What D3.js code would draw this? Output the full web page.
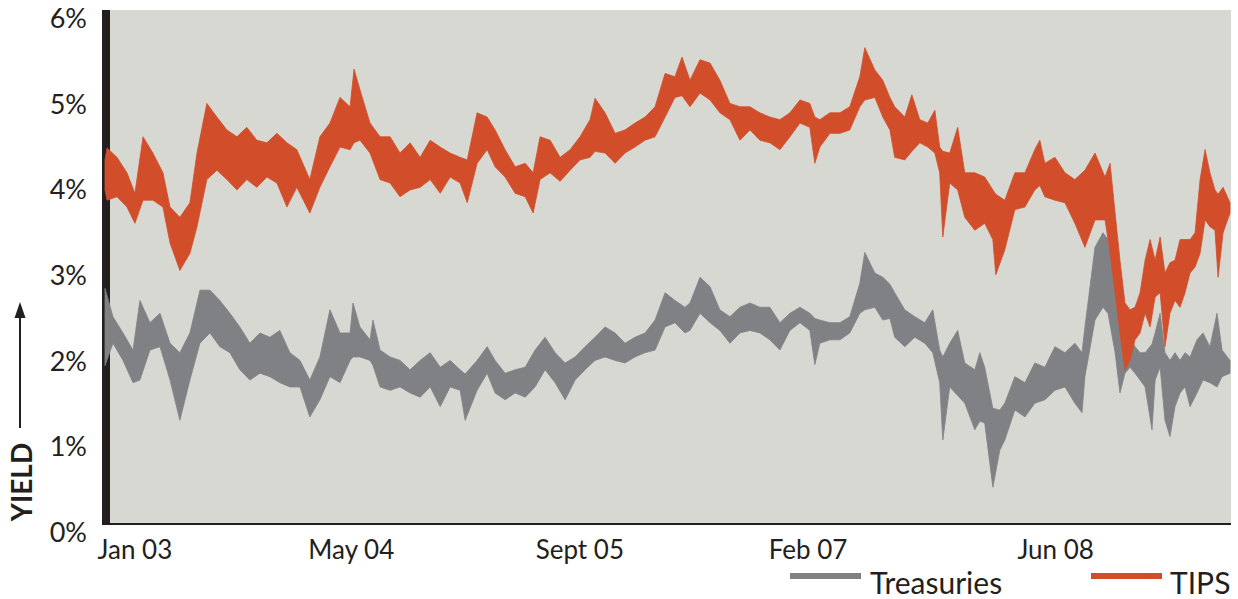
<!DOCTYPE html>
<html>
<head>
<meta charset="utf-8">
<script src="https://cdn.jsdelivr.net/npm/d3@7"></script>
<style>
  body { margin: 0; background: #fff; }
  text { font-family: Lato, "Open Sans", sans-serif; fill: #231f20; }
</style>
</head>
<body>
<svg width="1238" height="599"></svg>
<script>
// [decimal year, high, low] yield bands
const tips = [
  [2003.000,4.25,3.90],[2003.012,4.39,3.78],[2003.069,4.28,3.82],[2003.127,4.10,3.70],[2003.173,3.86,3.51],
  [2003.220,4.52,3.78],[2003.277,4.33,3.78],[2003.335,4.10,3.70],[2003.376,3.70,3.28],[2003.433,3.58,2.96],
  [2003.491,3.75,3.16],[2003.532,4.33,3.47],[2003.589,4.91,4.02],[2003.647,4.75,4.13],[2003.705,4.60,4.02],
  [2003.763,4.52,3.90],[2003.820,4.63,4.02],[2003.878,4.48,3.93],[2003.936,4.45,4.05],[2003.994,4.56,3.98],
  [2004.052,4.45,3.70],[2004.109,4.37,3.93],[2004.184,4.02,3.63],[2004.242,4.52,3.93],[2004.300,4.68,4.17],
  [2004.358,4.98,4.40],[2004.416,4.87,4.37],[2004.439,5.31,4.45],[2004.473,5.07,4.48],[2004.531,4.68,4.33],
  [2004.589,4.52,4.02],[2004.647,4.52,3.98],[2004.704,4.33,3.82],[2004.762,4.45,3.90],[2004.820,4.28,3.93],
  [2004.878,4.48,4.02],[2004.936,4.40,3.86],[2004.993,4.33,4.05],[2005.051,4.28,3.98],[2005.092,4.25,3.75],
  [2005.149,4.80,4.21],[2005.207,4.75,4.37],[2005.253,4.60,4.17],[2005.311,4.37,4.05],[2005.369,4.17,3.86],
  [2005.427,4.21,3.82],[2005.473,4.10,3.63],[2005.513,4.52,4.02],[2005.571,4.48,4.10],[2005.629,4.28,4.00],
  [2005.687,4.37,4.13],[2005.744,4.52,4.25],[2005.802,4.72,4.28],[2005.831,4.97,4.35],[2005.889,4.80,4.33],
  [2005.947,4.56,4.21],[2006.004,4.60,4.33],[2006.062,4.68,4.40],[2006.120,4.75,4.48],[2006.178,4.87,4.52],
  [2006.236,5.26,4.75],[2006.293,5.22,4.98],[2006.334,5.45,5.00],[2006.380,5.18,4.87],[2006.438,5.42,5.03],
  [2006.496,5.38,4.95],[2006.553,5.18,4.80],[2006.611,4.91,4.72],[2006.669,4.87,4.48],[2006.727,4.87,4.60],
  [2006.784,4.80,4.48],[2006.842,4.75,4.45],[2006.900,4.72,4.37],[2006.958,4.80,4.52],[2007.016,4.95,4.68],
  [2007.073,4.91,4.63],[2007.102,4.75,4.21],[2007.131,4.72,4.40],[2007.189,4.80,4.56],[2007.247,4.80,4.56],
  [2007.304,4.87,4.60],[2007.362,5.22,4.87],[2007.391,5.56,4.95],[2007.449,5.30,4.98],[2007.495,5.18,4.75],
  [2007.536,4.98,4.60],[2007.564,4.87,4.28],[2007.622,4.75,4.25],[2007.663,5.01,4.35],[2007.709,4.72,4.45],
  [2007.755,4.68,4.40],[2007.796,4.83,4.33],[2007.824,4.40,4.10],[2007.842,4.35,3.35],[2007.882,4.33,3.98],
  [2007.928,4.63,3.90],[2007.969,4.10,3.58],[2008.027,4.10,3.43],[2008.084,4.05,3.51],[2008.131,3.90,3.32],
  [2008.148,3.85,2.91],[2008.200,3.78,3.20],[2008.258,4.10,3.67],[2008.316,4.10,3.70],[2008.373,4.37,3.90],
  [2008.402,4.48,3.95],[2008.431,4.21,3.82],[2008.489,4.28,3.78],[2008.547,4.10,3.75],[2008.604,4.02,3.51],
  [2008.662,4.13,3.23],[2008.720,4.33,3.55],[2008.778,4.05,3.55],[2008.807,4.21,3.16],[2008.836,3.63,2.70],
  [2008.864,3.08,2.23],[2008.893,2.58,1.80],[2008.922,2.50,1.91],[2008.951,2.53,2.15],[2008.980,2.70,2.23],
  [2009.009,3.08,2.46],[2009.038,3.32,2.30],[2009.067,3.08,2.65],[2009.096,3.35,2.70],[2009.124,2.93,2.07],
  [2009.153,3.05,2.46],[2009.182,3.08,2.61],[2009.211,3.32,2.53],[2009.240,3.32,2.70],[2009.269,3.32,2.93],
  [2009.298,3.40,3.00],[2009.327,4.02,3.16],[2009.356,4.37,3.55],[2009.384,4.10,3.47],[2009.413,3.90,3.43],
  [2009.431,3.85,2.88],[2009.460,3.93,3.40],[2009.500,3.75,3.63]
];

const treasuries = [
  [2003.000,2.75,1.85],[2003.046,2.42,2.11],[2003.104,2.23,1.91],[2003.162,2.03,1.65],[2003.202,2.61,1.68],
  [2003.260,2.35,2.03],[2003.318,2.46,2.07],[2003.376,2.11,1.68],[2003.433,2.00,1.21],[2003.491,2.23,1.68],
  [2003.549,2.73,2.11],[2003.607,2.73,2.23],[2003.664,2.61,2.07],[2003.722,2.46,2.00],[2003.780,2.30,1.80],
  [2003.838,2.11,1.68],[2003.896,2.23,1.76],[2003.953,2.18,1.72],[2004.011,2.26,1.65],[2004.069,2.00,1.60],
  [2004.127,1.91,1.60],[2004.184,1.68,1.25],[2004.242,1.95,1.45],[2004.300,2.50,1.72],[2004.358,2.23,1.65],
  [2004.416,2.23,1.91],[2004.433,2.58,1.95],[2004.473,2.30,1.95],[2004.531,2.15,1.91],[2004.548,2.38,1.85],
  [2004.589,2.03,1.60],[2004.647,1.95,1.56],[2004.704,1.91,1.60],[2004.762,1.80,1.53],[2004.820,1.91,1.48],
  [2004.878,2.00,1.60],[2004.936,1.83,1.37],[2004.993,1.91,1.60],[2005.051,1.80,1.56],[2005.080,1.75,1.21],
  [2005.149,1.91,1.56],[2005.207,2.07,1.76],[2005.253,1.91,1.53],[2005.311,1.76,1.45],[2005.369,1.80,1.53],
  [2005.427,1.83,1.48],[2005.484,2.03,1.60],[2005.542,2.18,1.80],[2005.600,2.00,1.65],[2005.658,1.88,1.45],
  [2005.716,1.95,1.68],[2005.773,2.07,1.80],[2005.831,2.18,1.91],[2005.889,2.30,1.95],[2005.947,2.23,1.91],
  [2006.004,2.11,1.88],[2006.062,2.18,1.95],[2006.120,2.23,2.00],[2006.178,2.38,2.03],[2006.236,2.70,2.30],
  [2006.293,2.61,2.35],[2006.351,2.53,2.23],[2006.380,2.58,2.26],[2006.438,2.88,2.46],[2006.496,2.77,2.35],
  [2006.553,2.50,2.26],[2006.611,2.42,2.11],[2006.669,2.53,2.23],[2006.727,2.58,2.26],[2006.784,2.53,2.23],
  [2006.842,2.53,2.15],[2006.900,2.35,2.03],[2006.958,2.46,2.26],[2007.016,2.53,2.35],[2007.073,2.46,2.26],
  [2007.102,2.40,1.86],[2007.131,2.38,2.11],[2007.189,2.35,2.15],[2007.247,2.35,2.15],[2007.304,2.42,2.23],
  [2007.362,2.81,2.46],[2007.391,3.17,2.50],[2007.449,2.93,2.53],[2007.495,2.88,2.38],[2007.536,2.80,2.40],
  [2007.564,2.70,2.18],[2007.622,2.50,2.07],[2007.680,2.42,2.18],[2007.738,2.35,2.11],[2007.784,2.50,2.00],
  [2007.824,2.03,1.65],[2007.842,1.95,0.98],[2007.882,2.11,1.60],[2007.928,2.26,1.50],[2007.969,1.88,1.41],
  [2008.027,1.80,1.10],[2008.056,2.00,1.20],[2008.084,1.83,1.18],[2008.131,1.35,0.43],[2008.171,1.33,0.86],
  [2008.200,1.41,0.98],[2008.258,1.72,1.33],[2008.316,1.65,1.25],[2008.373,1.88,1.41],[2008.431,1.83,1.45],
  [2008.489,2.07,1.56],[2008.547,2.00,1.60],[2008.604,2.11,1.41],[2008.645,2.00,1.30],[2008.662,2.30,1.72],
  [2008.720,3.23,2.38],[2008.766,3.40,2.53],[2008.795,3.32,2.46],[2008.836,2.77,2.00],[2008.864,2.46,1.53],
  [2008.893,2.15,1.76],[2008.922,2.18,1.83],[2008.951,2.07,1.76],[2008.980,2.00,1.68],[2009.009,2.00,1.60],
  [2009.049,2.10,1.10],[2009.067,2.23,1.68],[2009.096,2.46,1.83],[2009.124,2.00,1.21],[2009.153,1.91,1.02],
  [2009.182,2.00,1.37],[2009.211,1.91,1.53],[2009.240,2.00,1.60],[2009.269,1.95,1.37],[2009.309,2.15,1.53],
  [2009.344,2.23,1.68],[2009.384,2.07,1.65],[2009.425,2.46,1.60],[2009.454,2.03,1.72],[2009.500,1.91,1.76]
];

const yTicks = [0, 1, 2, 3, 4, 5, 6];
const xTickYears = [2003.17, 2004.42, 2005.74, 2007.06, 2008.49];
const xTickLabels = ["Jan 03", "May 04", "Sept 05", "Feb 07", "Jun 08"];
const seriesNames = ["Treasuries", "TIPS"];
const seriesColors = ["#808185", "#d24e2a"];

const svg = d3.select("svg");

const yearToDate = y => {
    const yr = Math.floor(y);
    const a = new Date(yr, 0, 1), b = new Date(yr + 1, 0, 1);
    return new Date(+a + (y - yr) * (b - a));
};

const plotLeft = 105, plotRight = 1230, plotTop = 10, plotBottom = 524;

const xScale = d3.scaleTime()
    .domain([yearToDate(2003.0), yearToDate(2009.5)])
    .range([plotLeft, plotRight]);

const yScale = d3.scaleLinear()
    .domain([0, 6])
    .range([plotBottom, plotTop]);

// plot background
svg.append('rect')
    .attr('x', 103).attr('y', plotTop)
    .attr('width', 1231 - 103).attr('height', plotBottom - plotTop)
    .attr('fill', '#d7d8d2');

// thick left bar
svg.append('rect')
    .attr('x', 102).attr('y', plotTop)
    .attr('width', 8).attr('height', plotBottom - plotTop + 1)
    .attr('fill', '#231f20');

// bottom axis line
svg.append('line')
    .attr('x1', 102).attr('x2', 1231)
    .attr('y1', plotBottom).attr('y2', plotBottom)
    .attr('stroke', '#231f20').attr('stroke-width', 2);

const band = d3.area()
    .x(d => xScale(yearToDate(d[0])))
    .y0(d => yScale(d[2]))
    .y1(d => yScale(d[1]));

[treasuries, tips].forEach((s, i) => {
    svg.append('path')
        .datum(s)
        .attr('d', band)
        .attr('fill', seriesColors[i])
        .attr('stroke', seriesColors[i])
        .attr('stroke-width', 0.8)
        .attr('stroke-linejoin', 'round');
});

// y axis labels
const yAxisG = svg.append('g')
    .attr('transform', `translate(102, 0)`)
    .call(d3.axisLeft(yScale).tickValues(yTicks).tickFormat(d => d + '%').tickSize(0).tickPadding(15));
yAxisG.select('.domain').remove();
yAxisG.selectAll('text')
    .attr('y', 9)
    .style('font-size', '27px')
    .style('font-family', 'Lato, sans-serif')
    .style('fill', '#231f20');

// x axis labels
const xAxisG = svg.append('g')
    .attr('transform', `translate(0, ${plotBottom})`)
    .call(d3.axisBottom(xScale)
        .tickValues(xTickYears.map(yearToDate))
        .tickFormat((d, i) => xTickLabels[i])
        .tickSize(0).tickPadding(17));
xAxisG.select('.domain').remove();
xAxisG.selectAll('text')
    .style('font-size', '26px')
    .style('font-family', 'Lato, sans-serif')
    .style('fill', '#231f20');

// YIELD label with arrow
svg.append('text')
    .attr('transform', 'translate(32, 482) rotate(-90)')
    .attr('text-anchor', 'middle')
    .style('font-size', '28px')
    .style('font-weight', 'bold')
    .text('YIELD');

svg.append('line')
    .attr('x1', 20).attr('x2', 20)
    .attr('y1', 428).attr('y2', 314)
    .attr('stroke', '#231f20').attr('stroke-width', 2);
svg.append('path')
    .attr('d', 'M20,302 L14.5,318 L25.5,318 Z')
    .attr('fill', '#231f20');

// legend
const legendX = [790, 1091];
const legendTextX = [870, 1170];
seriesNames.forEach((name, i) => {
    svg.append('line')
        .attr('x1', legendX[i]).attr('x2', legendX[i] + 71)
        .attr('y1', 576).attr('y2', 576)
        .attr('stroke', seriesColors[i]).attr('stroke-width', 6);
    svg.append('text')
        .attr('x', legendTextX[i]).attr('y', 594)
        .style('font-size', '30px')
        .text(name);
});
</script>
</body>
</html>
